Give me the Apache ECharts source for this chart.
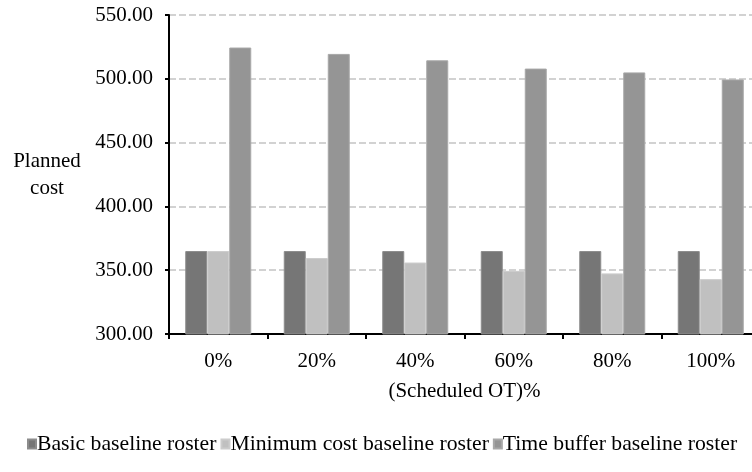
<!DOCTYPE html>
<html>
<head>
<meta charset="utf-8">
<script src="https://cdn.jsdelivr.net/npm/echarts@6/dist/echarts.min.js"></script>
<style>html,body{margin:0;padding:0;background:#fff}#c{width:752px;height:472px}</style>
</head>
<body>
<div id="c"></div>
<script>
var categories = ['0%', '20%', '40%', '60%', '80%', '100%'];
var basicRoster = [365, 365, 365, 365, 365, 365];
var minCostRoster = [365, 359.5, 356, 349.5, 347.5, 343];
var timeBufferRoster = [524.5, 519.5, 514.5, 508, 505, 499.5];
var seriesNames = ['Basic baseline roster', 'Minimum cost baseline roster', 'Time buffer baseline roster'];
var yTicks = { min: 300, max: 550, interval: 50 };

var font = 'Liberation Serif';
var chart = echarts.init(document.getElementById('c'), null, { renderer: 'canvas' });
chart.setOption({
  animation: false,
  backgroundColor: '#fff',
  textStyle: { fontFamily: font },
  grid: { left: 169, width: 591, top: 15, height: 319, containLabel: false, outerBoundsMode: 'none' },
  legend: {
    left: 22, top: 428, width: 745,
    itemWidth: 8, itemHeight: 9, itemGap: 4,
    icon: 'rect',
    textStyle: { fontFamily: font, fontSize: 21.7, color: '#000', padding: [0, 0, 0, -4] },
    data: seriesNames
  },
  xAxis: {
    type: 'category',
    data: categories,
    name: '(Scheduled OT)%',
    nameLocation: 'middle',
    nameGap: 57,
    nameTextStyle: { fontFamily: font, fontSize: 21, color: '#000', verticalAlign: 'middle' },
    axisLine: { lineStyle: { color: '#000', width: 2 } },
    axisTick: { show: true, length: 5, lineStyle: { color: '#000', width: 2 } },
    axisLabel: { fontFamily: font, fontSize: 21, color: '#000', margin: 17 }
  },
  yAxis: {
    type: 'value',
    min: yTicks.min, max: yTicks.max, interval: yTicks.interval,
    name: 'Planned\ncost',
    nameLocation: 'middle',
    nameGap: 122,
    nameRotate: 0,
    nameTextStyle: { fontFamily: font, fontSize: 21, color: '#000', align: 'center', verticalAlign: 'middle', lineHeight: 27 },
    axisLine: { show: true, lineStyle: { color: '#000', width: 2 } },
    axisTick: { show: true, length: 4, lineStyle: { color: '#000', width: 2 } },
    axisLabel: { fontFamily: font, fontSize: 21, color: '#000', margin: 16,
      formatter: function (v) { return v.toFixed(2); } },
    splitLine: { show: true, lineStyle: { color: '#d2d2d2', width: 2, type: [7, 3] } }
  },
  series: [
    { name: seriesNames[0], type: 'bar', data: basicRoster, barWidth: 22, barGap: '0%',
      itemStyle: { color: '#767676', borderColor: '#8c8c8c', borderWidth: 1 } },
    { name: seriesNames[1], type: 'bar', data: minCostRoster, barWidth: 22, barGap: '0%',
      itemStyle: { color: '#c0c0c0', borderColor: '#cccccc', borderWidth: 1 } },
    { name: seriesNames[2], type: 'bar', data: timeBufferRoster, barWidth: 22, barGap: '0%',
      itemStyle: { color: '#959595', borderColor: '#a8a8a8', borderWidth: 1 } }
  ]
});
</script>
</body>
</html>
